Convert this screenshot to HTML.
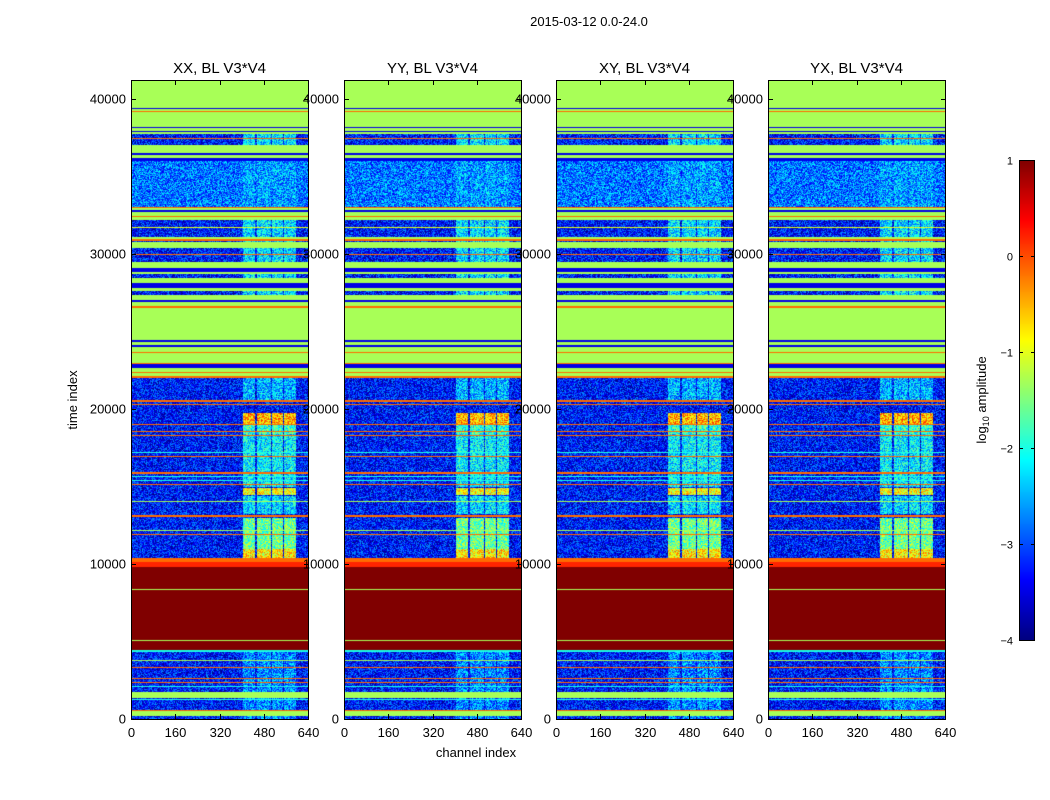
<!DOCTYPE html>
<html><head><meta charset="utf-8">
<style>
body{margin:0;background:#fff;width:1050px;height:800px;overflow:hidden;font-family:"Liberation Sans",sans-serif;}
#wrap{position:relative;width:1050px;height:800px;}
canvas.hm{position:absolute;}
svg{position:absolute;left:0;top:0;}
</style></head>
<body>
<div id="wrap">
<canvas id="cb" class="hm" width="15" height="480" style="left:1019px;top:160px"></canvas>
<svg id="ov" width="1050" height="800"></svg>
</div>
<script>
// ---- data ----
const panelTitles = ["XX, BL V3*V4","YY, BL V3*V4","XY, BL V3*V4","YX, BL V3*V4"];
const yTicks = [0,10000,20000,30000,40000];
const xTicks = [0,160,320,480,640];
const cbTicks = [1,0,-1,-2,-3,-4];
const tMax = 41230, chMax = 640, vMin = -4, vMax = 1;
const baseLevel = -3.3;
// [tStart, tEnd, log10 amplitude, noisy(1)/flat(0)]
const bands = [
[39410,41300,-1.3,0],[39345,39410,-3.5,0],[39215,39345,-1.3,0],[39150,39215,-0.15,0],
[38184,39150,-1.3,0],[38120,38184,-3.5,0],[37926,38120,-1.3,0],[37862,37926,-3.5,0],
[37733,37862,-1.3,0],[37410,37475,-0.15,0],[36507,37023,-1.3,0],[36378,36507,-3.5,0],
[36185,36378,-1.3,0],[35991,36185,-3.5,0],[33024,35991,-2.8,1],[32960,33024,-0.15,0],
[32831,32960,-1.3,0],[32702,32831,-3.5,0],[32186,32702,-1.3,0],[32380,32444,-0.15,0],
[31670,31734,-1.0,0],[30960,31089,-1.3,0],[30831,30960,-0.15,0],[30380,30767,-1.3,0],
[29928,29993,-0.15,0],[29090,29477,-1.3,0],[28832,29090,-3.5,0],[28703,28832,-1.3,0],
[28122,28445,-1.3,0],[27800,28122,-3.5,0],[27606,27800,-1.3,0],[27026,27348,-1.3,0],
[26897,27026,-3.5,0],[26639,26897,-1.3,0],[26510,26639,-0.15,0],[24445,26510,-1.3,0],
[24316,24445,-3.5,0],[24123,24316,-1.3,0],[23994,24123,-3.5,0],[23671,23994,-1.3,0],
[23607,23671,-0.15,0],[22962,23607,-1.3,0],[22898,22962,-0.15,0],[22640,22898,-3.5,0],
[22382,22640,-1.3,0],[22317,22382,-0.15,0],[22124,22317,-1.3,0],[21995,22124,-0.15,0],
[20446,20575,-0.15,0],[20253,20317,-0.15,0],[18963,19027,-0.15,0],[18512,18576,-0.15,0],
[18254,18318,-0.15,0],[17157,17221,-2.0,0],[16899,16963,-0.15,0],[15803,15932,-0.15,0],
[15609,15673,-2.0,0],[15351,15415,-2.0,0],[15093,15157,-0.15,0],[13997,14061,-1.3,0],
[13029,13158,-0.15,0],[12126,12190,-1.3,0],[11868,11932,-0.15,0],[10127,10385,-0.15,0],
[9804,10127,0.2,0],[4450,9804,1.0,0],[8353,8417,-1.3,0],[5063,5127,-1.3,0],
[4322,4450,-2.0,0],[3741,3805,-1.3,0],[3290,3354,-0.15,0],[2580,2645,-0.15,0],
[2322,2387,-0.15,0],[2064,2128,-2.0,0],[1355,1742,-1.3,0],[1226,1290,-2.0,0],
[516,580,-0.15,0],[193,516,-1.3,0]
];
// RFI channel ranges
const rfiChannels = [[405,450],[457,505],[511,550],[555,598]];
// [tStart, tEnd, level] of RFI in those channels
const rfiLevels = [
[26000,38000,-2.3],[33000,36000,-2.6],[20500,22000,-2.5],[15000,18400,-2.2],[18400,19000,-1.9],
[18950,19750,-0.5],[14450,14900,-0.9],[13200,14400,-2.3],[10400,13000,-1.6],
[10400,11000,-0.8],[0,4400,-2.7]
];

// ---- scales ----
const panelX = [131,344,556,768], panelW = 177, pTop = 80, pBot = 719;
const yScale = t => pBot - t/tMax*(pBot-pTop);
const xScale = (i,c) => panelX[i] + c/chMax*panelW;
function jet(v){
  let f=(v-vMin)/(vMax-vMin); f=Math.max(0,Math.min(1,f));
  const cl=x=>Math.max(0,Math.min(1,x));
  return [cl(1.5-Math.abs(4*f-3))*255,cl(1.5-Math.abs(4*f-2))*255,cl(1.5-Math.abs(4*f-1))*255];
}
function hash(x,y,s){let h=(x*374761393+y*668265263+s*982451653)|0;h=(h^(h>>>13))*1274126177|0;h=h^(h>>>16);return (h>>>0)/4294967296;}

const wrap=document.getElementById('wrap');
const H=pBot-pTop, W=panelW;
for(let p=0;p<4;p++){
  const cv=document.createElement('canvas');
  
  
  cv.className='hm'; cv.width=W; cv.height=H;
  cv.style.left=panelX[p]+'px'; cv.style.top=pTop+'px';
  wrap.insertBefore(cv,wrap.firstChild);
  const ctx=cv.getContext('2d'); const img=ctx.createImageData(W,H);
  for(let y=0;y<H;y++){
    const t=tMax*(1-(y+0.5)/H);
    let lvl=baseLevel, noisy=1;
    for(const b of bands){ if(t>=b[0]&&t<b[1]){lvl=b[2];noisy=b[3];} }
    let rl=null;
    if(noisy){ for(const r of rfiLevels){ if(t>=r[0]&&t<r[1]) rl=r[2]; } }
    for(let x=0;x<W;x++){
      const c=(x+0.5)/W*chMax;
      let v=lvl;
      if(noisy){
        if(rl!==null){ for(const rc of rfiChannels){ if(c>=rc[0]&&c<rc[1]){v=Math.max(v,rl);} } }
        v+= (hash(x,y,p)-0.5)*1.4;
      }
      const col=jet(v); const k=(y*W+x)*4;
      img.data[k]=col[0];img.data[k+1]=col[1];img.data[k+2]=col[2];img.data[k+3]=255;
    }
  }
  ctx.putImageData(img,0,0);
}
// colorbar
(function(){
  const cv=document.getElementById('cb'),ctx=cv.getContext('2d');
  for(let y=0;y<480;y++){const v=vMax-(y+0.5)/480*(vMax-vMin);const c=jet(v);
    ctx.fillStyle=`rgb(${c[0]|0},${c[1]|0},${c[2]|0})`;ctx.fillRect(0,y,15,1);}
})();

// overlay
const svg=document.getElementById('ov'); const NS='http://www.w3.org/2000/svg';
function el(tag,attrs,parent){const e=document.createElementNS(NS,tag);for(const k in attrs)e.setAttribute(k,attrs[k]);(parent||svg).appendChild(e);return e;}
function txt(s,attrs){const e=el('text',Object.assign({'font-family':'Liberation Sans, sans-serif','fill':'#000'},attrs));e.textContent=s;return e;}

let e;
e=txt('2015-03-12 0.0-24.0',{x:589,y:26,'font-size':13,'text-anchor':'middle'});


e=txt('time index',{x:0,y:0,'font-size':13,'text-anchor':'middle',transform:'translate(77,400) rotate(-90)'});


e=txt('channel index',{x:476,y:757,'font-size':13,'text-anchor':'middle'});



for(let p=0;p<4;p++){
  const x0=panelX[p];
  e=el('rect',{x:x0+0.5,y:pTop+0.5,width:W,height:H,fill:'none',stroke:'#000','stroke-width':1});
  
  
  e=txt(panelTitles[p],{x:x0+W/2,y:73,'font-size':15,'text-anchor':'middle'});
  
  
  for(const t of yTicks){
    const y=Math.round(yScale(t))+0.5;
    el('line',{x1:x0,x2:x0+5,y1:y,y2:y,stroke:'#000'});
    el('line',{x1:x0+W-4,x2:x0+W+1,y1:y,y2:y,stroke:'#000'});
    e=txt(String(t),{x:x0-5,y:y+4,'font-size':13,'text-anchor':'end'});
    
    
  }
  for(const c of xTicks){
    const x=Math.round(xScale(p,c))+0.5;
    el('line',{x1:x,x2:x,y1:pBot,y2:pBot-5,stroke:'#000'});
    el('line',{x1:x,x2:x,y1:pTop,y2:pTop+5,stroke:'#000'});
    e=txt(String(c),{x:x,y:737,'font-size':13,'text-anchor':'middle'});
    
    
  }
}
el('rect',{x:1019.5,y:160.5,width:15,height:480,fill:'none',stroke:'#000'});
for(const v of cbTicks){
  const y=Math.round(160+(vMax-v)/(vMax-vMin)*480)+0.5;
  el('line',{x1:1019,x2:1023,y1:y,y2:y,stroke:'#000'});
  el('line',{x1:1031,x2:1035,y1:y,y2:y,stroke:'#000'});
  e=txt(v<0?'\u2212'+(-v):String(v),{x:1013,y:y+4,'font-size':11,'text-anchor':'end'});
  
  
}
e=txt('',{x:0,y:0,'font-size':13,'text-anchor':'middle',transform:'translate(986,400) rotate(-90)'});
e.innerHTML='log<tspan font-size="9" dy="3">10</tspan><tspan dy="-3"> amplitude</tspan>';


</script>
</body></html>
